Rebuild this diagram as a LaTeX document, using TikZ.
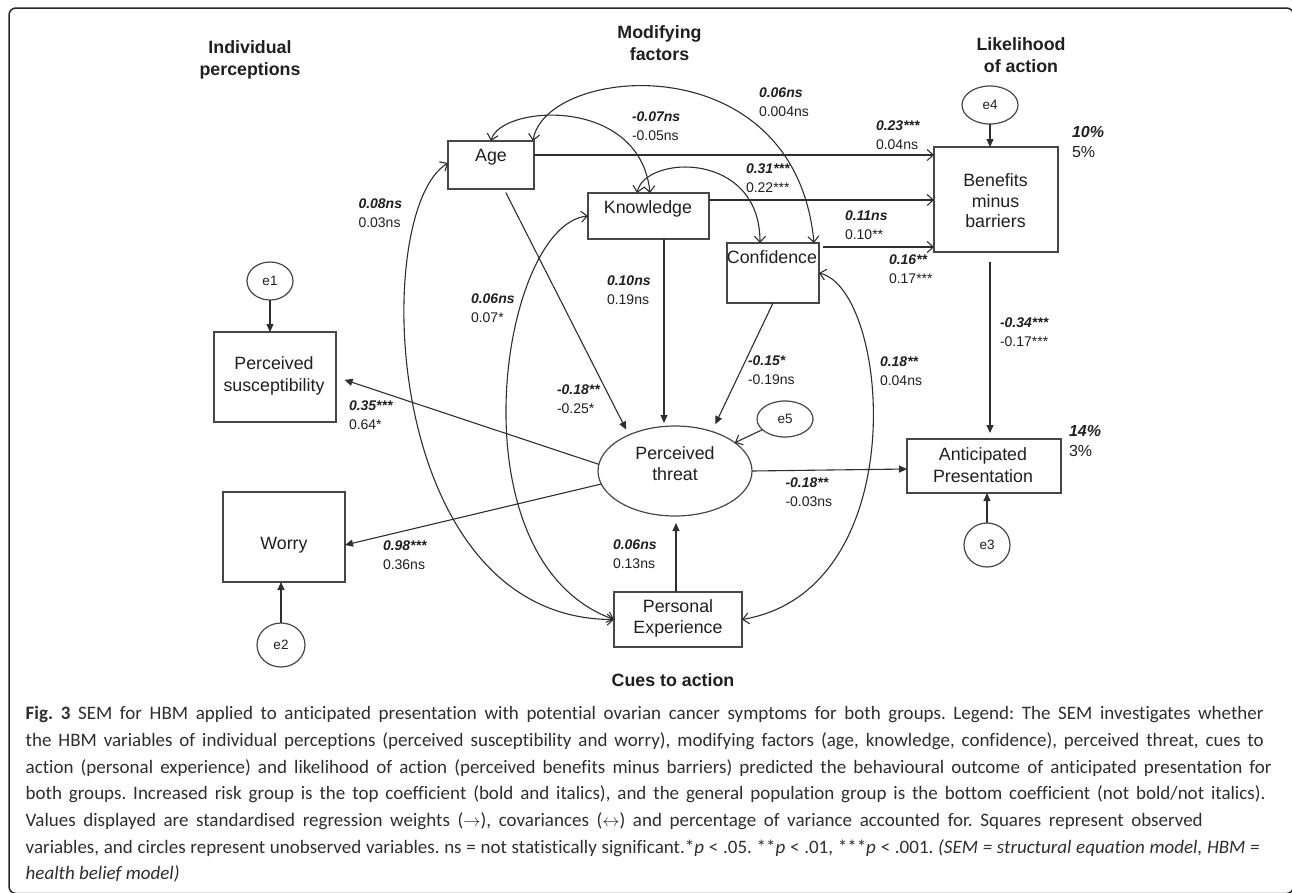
\documentclass[tikz,border=0pt]{standalone}
\usepackage{fontspec}
\setmainfont{Liberation Sans}
\newfontfamily\capfont[Ligatures=NoCommon]{Carlito}
\usetikzlibrary{arrows.meta,shapes.geometric}
\newcommand\BI[1]{{\bfseries\itshape #1}}
\newcommand\capline[2]{\hbox to #1{#2}}
\frenchspacing
\begin{document}
\begin{tikzpicture}[x=1pt,y=-1pt,
  every node/.style={inner sep=0pt, outer sep=0pt, text=black!88},
  box/.style={draw=black!72, line width=1.3pt, rectangle},
  err/.style={draw=black!72, line width=1.2pt, ellipse, font=\fontsize{13.5}{16}\selectfont},
  btxt/.style={font=\fontsize{17.8}{21.5}\selectfont, align=center},
  head/.style={font=\fontsize{17.8}{21.5}\selectfont\bfseries, align=center},
  coef/.style={font=\fontsize{14}{18.5}\selectfont, align=left, anchor=north west},
  pct/.style={font=\fontsize{16}{20.5}\selectfont, align=left, anchor=north west},
  capl/.style={font=\capfont\fontsize{19}{26.7}\selectfont, anchor=base west, text=black!82},
  con/.style={draw=black!82, line width=1.1pt},
  reg/.style={con, -{Triangle[length=8pt,width=7pt]}},
  rego/.style={con, -{Straight Barb[length=6pt,width=11pt]}},
  cov/.style={con, {Straight Barb[length=6pt,width=11pt]}-{Straight Barb[length=6pt,width=11pt]}},
]
\useasboundingbox (0,0) rectangle (1292,892);
\begin{scope}
\clip (0,0) rectangle (1292,892);
\draw[line width=1.5pt, black!85, rounded corners=7pt] (9,8) rectangle (1293.5,893.5);
\end{scope}

% headings
\node[head] (h1) at (250,60) {Individual\\perceptions};
\node[head] (h2) at (659.5,43) {Modifying\\factors};
\node[head] (h3) at (1021,55) {Likelihood\\of action};
\node[head] (h4) at (673,680) {Cues to action};

% boxes
\node[box, minimum width=86pt, minimum height=48pt] (age) at (491,165) {};
\node[btxt] (agel) at (491,157) {Age};
\node[box, minimum width=121pt, minimum height=46pt] (know) at (648.5,216) {};
\node[btxt] (knowl) at (648,209) {Knowledge};
\node[box, minimum width=92pt, minimum height=60pt] (conf) at (773,273) {};
\node[btxt] (confl) at (772,257) {Confidence};
\node[box, minimum width=124pt, minimum height=105pt] (ben) at (996,199.5) {};
\node[btxt, font=\fontsize{17.8}{20.5}\selectfont] (benl) at (995.5,201) {Benefits\\minus\\barriers};
\node[box, minimum width=122pt, minimum height=90pt] (susc) at (275,377) {};
\node[btxt, font=\fontsize{17.8}{22}\selectfont] (suscl) at (274,376) {Perceived\\susceptibility};
\node[box, minimum width=122pt, minimum height=90pt] (worry) at (284,537) {};
\node[btxt] (worryl) at (284,545) {Worry};
\node[box, minimum width=154pt, minimum height=54pt] (ap) at (984,466) {};
\node[btxt, font=\fontsize{17.8}{22}\selectfont] (apl) at (983,465) {Anticipated\\Presentation};
\node[box, minimum width=128pt, minimum height=55pt] (pe) at (678,619.5) {};
\node[btxt, font=\fontsize{17.8}{21}\selectfont] (pel) at (678,618) {Personal\\Experience};
\node[err, minimum width=154pt, minimum height=90pt] (threat) at (675,471) {};
\node[btxt, font=\fontsize{17.8}{21}\selectfont] (threatl) at (675,464) {Perceived\\threat};

% error terms
\node[err, minimum width=46pt, minimum height=38pt] (e1) at (270,281) {e1};
\node[err, minimum width=48pt, minimum height=44pt] (e2) at (281,645) {e2};
\node[err, minimum width=46pt, minimum height=44pt] (e3) at (987,545) {e3};
\node[err, minimum width=56pt, minimum height=38pt] (e4) at (990,105) {e4};
\node[err, minimum width=56pt, minimum height=36pt] (e5) at (785,419) {e5};

% regressions into benefits
\coordinate (ab) at ([yshift=10pt]age.east);
\draw[rego] (ab) -- (ab -| ben.west);
\coordinate (kb) at ([yshift=16pt]know.east);
\draw[rego] (kb) -- (kb -| ben.west);
\coordinate (cb) at ([xshift=4pt,yshift=26pt]conf.east);
\draw[rego] (cb) -- (cb -| ben.west);

\coordinate (bs) at ([xshift=-6pt]ben.south);
\draw[reg, shorten <=10pt, shorten >=6pt] (bs) -- (bs |- ap.north);
\draw[reg] (e4.south) -- (e4.south |- ben.north);
\draw[reg] (e3.north) -- (e3.north |- ap.south);
\draw[reg] (threat.east) -- ([yshift=-3pt]ap.west);
\draw[reg, shorten >=9pt] (threat.175) -- (susc.east);
\draw[reg] (threat.190) -- ([yshift=-8pt]worry.east);
\draw[reg] (e1.south) -- (e1.south |- susc.north);
\draw[reg] (e2.north) -- (e2.north |- worry.south);
\draw[reg, shorten <=4pt, shorten >=6pt] ([xshift=13pt]age.south) -- (threat.142);
\coordinate (ks) at ([xshift=15.5pt]know.south);
\draw[reg, shorten >=3pt] (ks) -- (ks |- threat.north);
\draw[reg, shorten >=8pt] (conf.south) -- (threat.47);
\draw[rego] (e5) -- (threat);
\coordinate (pn) at ([xshift=-2pt]pe.north);
\draw[reg, shorten >=7pt] (pn) -- (pn |- threat.south);

% covariances
\draw[cov] ([xshift=42pt]age.north) .. controls (545,65) and (795,42) .. ([xshift=41pt]conf.north);
\draw[cov] (age.north) .. controls (500,105) and (640,95) .. ([xshift=1.5pt]know.north);
\draw[cov] ([xshift=-11.5pt]know.north) .. controls (645,155) and (760,150) .. ([xshift=-13pt]conf.north);
\draw[cov] ([yshift=2pt]age.west) .. controls (370,210) and (380,620) .. (pe.west);
\draw[cov] (know.west) .. controls (500,225) and (450,560) .. (pe.west);
\draw[cov] (conf.east) .. controls (890,290) and (915,590) .. (pe.east);

% coefficients
\node[coef] (c1) at (632,112) {\BI{-0.07ns}\\-0.05ns};
\node[coef] (c2) at (759,88) {\BI{0.06ns}\\0.004ns};
\node[coef] (c3) at (876,121) {\BI{0.23***}\\0.04ns};
\node[coef] (c4) at (746,164) {\BI{0.31***}\\0.22***};
\node[coef] (c5) at (845,211) {\BI{0.11ns}\\0.10**};
\node[coef] (c6) at (889,255) {\BI{0.16**}\\0.17***};
\node[coef] (c7) at (358.5,199) {\BI{0.08ns}\\0.03ns};
\node[coef] (c8) at (471,294) {\BI{0.06ns}\\0.07*};
\node[coef] (c9) at (607,276) {\BI{0.10ns}\\0.19ns};
\node[coef] (c10) at (557,385) {\BI{-0.18**}\\-0.25*};
\node[coef] (c11) at (748,356) {\BI{-0.15*}\\-0.19ns};
\node[coef] (c12) at (880,357) {\BI{0.18**}\\0.04ns};
\node[coef] (c13) at (1000,318) {\BI{-0.34***}\\-0.17***};
\node[coef] (c14) at (349,401) {\BI{0.35***}\\0.64*};
\node[coef] (c15) at (383,541) {\BI{0.98***}\\0.36ns};
\node[coef] (c16) at (785.5,478) {\BI{-0.18**}\\-0.03ns};
\node[coef] (c17) at (613,540) {\BI{0.06ns}\\0.13ns};
\node[pct] (r1) at (1072,126) {\BI{10\%}\\5\%};
\node[pct] (r2) at (1069,425) {\BI{14\%}\\3\%};

% caption
\node[capl] (cap1) at (25.7,719) {\capline{1238pt}{{\bfseries Fig. 3} SEM for HBM applied to anticipated presentation with potential ovarian cancer symptoms for both groups. Legend: The SEM investigates whether}};
\node[capl] (cap2) at (25.7,746) {\capline{1238pt}{the HBM variables of individual perceptions (perceived susceptibility and worry), modifying factors (age, knowledge, confidence), perceived threat, cues to}};
\node[capl] (cap3) at (25.7,773) {\capline{1246pt}{action (personal experience) and likelihood of action (perceived benefits minus barriers) predicted the behavioural outcome of anticipated presentation for}};
\node[capl] (cap4) at (25.7,799) {\capline{1240pt}{both groups. Increased risk group is the top coefficient (bold and italics), and the general population group is the bottom coefficient (not bold/not italics).}};
\node[capl] (cap5) at (25.7,826) {\capline{1177pt}{Values displayed are standardised regression weights ($\rightarrow$), covariances ($\leftrightarrow$) and percentage of variance accounted for. Squares represent observed}};
\node[capl] (cap6) at (25.7,853) {\capline{1234pt}{variables, and circles represent unobserved variables. ns = not statistically significant.*\textit{p} < .05. **\textit{p} < .01, ***\textit{p} < .001. \textit{(SEM = structural equation model, HBM =}}};
\node[capl] (cap7) at (25.7,879) {\textit{health belief model)}};
\end{tikzpicture}
\end{document}
